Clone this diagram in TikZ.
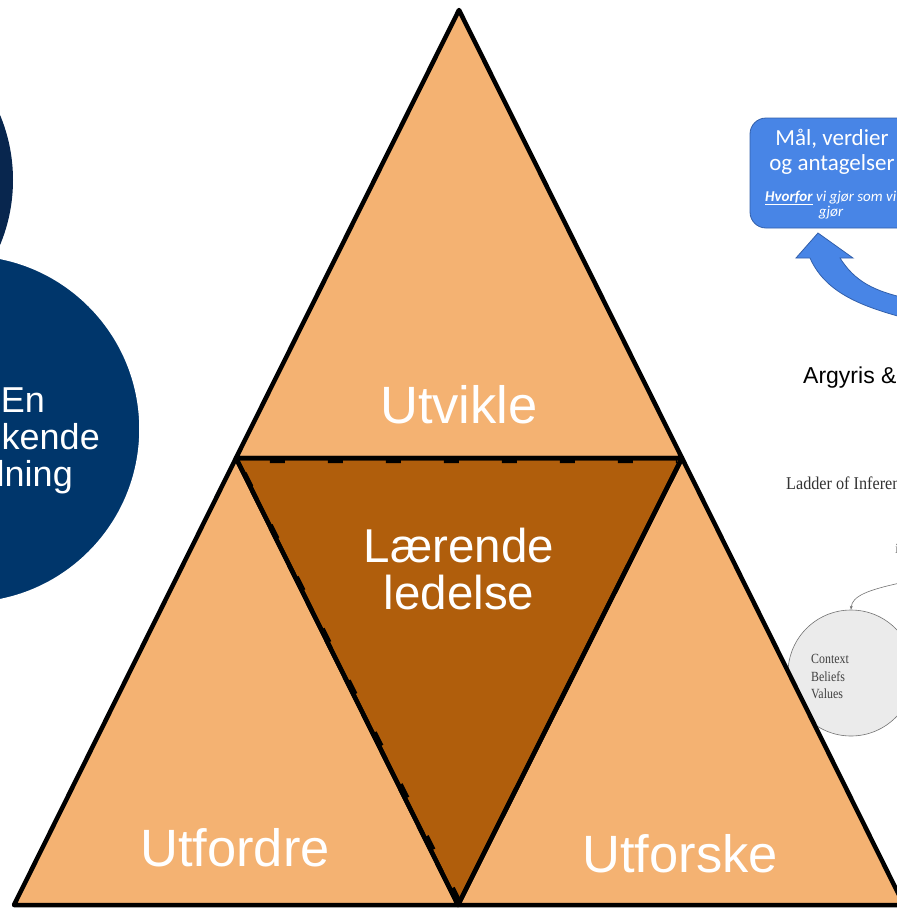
\documentclass[tikz,border=0pt]{standalone}
\usepackage{fontspec}
\usepackage{graphicx}
\setmainfont{Liberation Sans}
\newfontfamily\calib{Carlito}
\newfontfamily\tms{Liberation Serif}
\usetikzlibrary{arrows.meta}
\definecolor{peach}{RGB}{244,178,114}
\definecolor{brownc}{RGB}{176,94,12}
\definecolor{navy}{RGB}{0,54,107}
\definecolor{darknavy}{RGB}{8,38,78}
\definecolor{boxblue}{RGB}{72,133,230}
\definecolor{boxedge}{RGB}{50,95,170}
\tikzset{
  tri/.style={fill=peach, draw=black, line width=4.5pt, line join=round},
  bigtxt/.style={text=white, inner sep=0, font=\fontsize{52.5}{60}\selectfont},
  midtxt/.style={text=white, inner sep=0, font=\fontsize{47.5}{50}\selectfont},
  circtxt/.style={text=white, inner sep=0, font=\fontsize{36}{40}\selectfont},
  boxtxt/.style={text=white, inner sep=0, font=\calib\fontsize{23}{25}\selectfont},
  boxsmall/.style={text=white, inner sep=0, font=\calib\itshape\fontsize{15}{17}\selectfont},
  ctxtxt/.style={text=black!75, inner sep=0, font=\tms\fontsize{14}{16}\selectfont},
  barrow/.style={fill=boxblue, draw=boxedge, line width=0.8pt, line join=miter}
}
\begin{document}
\begin{tikzpicture}[x=1pt,y=-1pt]
\useasboundingbox (0,0) rectangle (897,908);
\clip (0,0) rectangle (897,908);

% left circles
\fill[darknavy] (-156,180) circle[radius=169pt];
\filldraw[fill=navy, draw=white, line width=1.5pt] (-34,429) circle[radius=174pt];
\node[circtxt, anchor=base east] (c1) at (45,412) {En};
\node[circtxt, anchor=base east] (c2) at (100,449) {kende};
\node[circtxt, anchor=base east] (c3) at (73,486) {lning};

% right side: blue box
\filldraw[fill=boxblue, draw=boxedge, line width=0.8pt, rounded corners=16pt] (750,118) rectangle (960,228);
\node[boxtxt, anchor=base] (b1) at (832,145) {Mål, verdier};
\node[boxtxt, anchor=base] (b2) at (832,170) {og antagelser};
\node[boxsmall, anchor=base west] (b3) at (765,201) {\underline{\bfseries Hvorfor} vi gjør som vi};
\node[boxsmall, anchor=base] (b4) at (831,216) {gjør};

% blue curved arrow
\filldraw[barrow] (818,233) -- (853,258) -- (840,258)
  .. controls (855,282) and (875,291) .. (905,298) -- (905,318)
  .. controls (860,306) and (825,292) .. (810,258) -- (796,258) -- cycle;

% Argyris
\node[anchor=base west, inner sep=0, font=\fontsize{23}{26}\selectfont] (arg) at (803,383) {Argyris \&};

% Ladder of inference
\node[anchor=base west, inner sep=0, text=black!80, font=\tms\fontsize{18}{20}\selectfont] (lad) at (786,489) {\scalebox{0.9}[1]{Ladder of Inferen}};
\node[anchor=base west, inner sep=0, text=black!55, font=\tms\fontsize{14}{16}\selectfont] (imark) at (895,553) {i};

\node[circle, draw=black!55, fill=black!8, line width=0.6pt, minimum size=126pt, inner sep=0] (ctx) at (851,673) {};
\node[ctxtxt, anchor=base west] (t1) at (811,663) {\scalebox{0.85}[1]{Context}};
\node[ctxtxt, anchor=base west] (t2) at (811,681) {\scalebox{0.85}[1]{Beliefs}};
\node[ctxtxt, anchor=base west] (t3) at (811,698) {\scalebox{0.85}[1]{Values}};
\coordinate (cs) at (900,583);
\draw[black!55, line width=0.6pt, -{Stealth[length=4pt,width=3pt]}] (cs) .. controls (868,590) and (852,596) .. (ctx.north);

% triangles
\fill[brownc] (236,458) -- (682,458) -- (458,905) -- cycle;
\draw[black, line width=3pt, dash pattern=on 15pt off 43pt] (460,901) -- (239.5,461.5) -- (677,461.5);
\draw[tri] (459,10) -- (236,458) -- (682,458) -- cycle;
\draw[tri] (236,458) -- (14,905) -- (458,905) -- cycle;
\draw[tri] (682,458) -- (458,905) -- (904,905) -- cycle;
\draw[black, line width=4.5pt, line join=round] (236,458) -- (682,458) -- (458,905) -- cycle;

\node[bigtxt, anchor=base] (utv) at (459,423) {Utvikle};
\node[bigtxt, anchor=base] (utf) at (235,866) {Utfordre};
\node[bigtxt, anchor=base] (uts) at (680,872) {Utforske};
\node[midtxt, anchor=base] (l1) at (459,562) {Lærende};
\node[midtxt, anchor=base] (l2) at (459,609) {ledelse};
\end{tikzpicture}
\end{document}
